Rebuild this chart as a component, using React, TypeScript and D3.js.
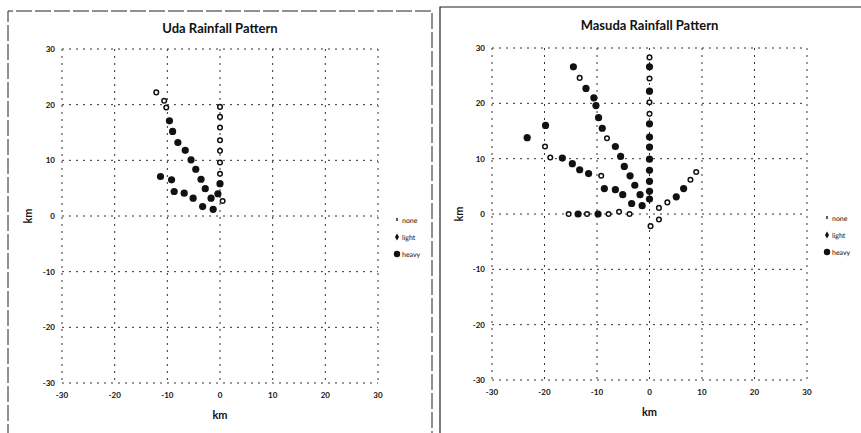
import React from "react";
import * as d3 from "d3";

// km offsets, [x, y]
const ticks = [-30, -20, -10, 0, 10, 20, 30];
const legendLabels = ["none", "light", "heavy"];

const udaLight: [number, number][] = [
  [0, 19.6], [0, 17.8], [0, 15.9], [0, 13.6], [0, 11.7], [0, 9.6], [0, 7.6], [0.5, 2.7],
  [-12.1, 22.2], [-10.6, 20.7], [-10.2, 19.5],
];
const udaHeavy: [number, number][] = [
  [0, 5.8], [-0.4, 4.0],
  [-9.6, 17.1], [-9.0, 15.2], [-8.0, 13.2], [-6.6, 11.8], [-5.5, 10.1], [-4.6, 8.4],
  [-3.6, 6.6], [-2.8, 4.9], [-1.7, 3.2], [-1.3, 1.2],
  [-11.3, 7.1], [-9.2, 6.5], [-8.7, 4.4], [-6.8, 4.1], [-5.1, 3.2], [-3.3, 1.7],
];

const masudaLight: [number, number][] = [
  [0, 28.3], [0, 24.5], [0, 20.2], [0, 18.1],
  [-13.3, 24.6], [-8.1, 13.7], [-19.9, 12.2], [-18.9, 10.2], [-9.2, 6.9],
  [-15.4, 0], [-11.9, 0], [-7.8, 0], [-5.8, 0.4], [-3.8, 0],
  [1.8, 1.1], [3.4, 2.1], [7.8, 6.2], [8.9, 7.6], [1.8, -1.0], [0.2, -2.2],
];
const masudaHeavy: [number, number][] = [
  [0, 26.6], [0, 22.2], [0, 16.3], [0, 13.9], [0, 12.1], [0, 9.9], [0, 7.9], [0, 5.9], [0, 4.1], [0, 2.7],
  [-14.5, 26.6], [-12.1, 22.7], [-10.6, 21.0], [-10.2, 19.6], [-9.7, 17.4], [-9.0, 15.5],
  [-6.5, 12.2], [-5.5, 10.4], [-4.8, 8.6], [-3.7, 6.9], [-2.8, 5.2], [-1.8, 3.5], [-1.4, 1.5],
  [-16.6, 10.1], [-14.7, 9.1], [-13.3, 8.0], [-11.6, 7.3], [-8.6, 4.6], [-6.5, 4.4], [-5.1, 3.5], [-3.4, 1.9],
  [-19.8, 16.0], [-23.3, 13.8], [-13.6, 0], [-9.8, 0], [5.1, 3.1], [6.5, 4.6],
];

const FONT = "Lato, 'Open Sans', sans-serif";

interface ChartProps {
  title: string;
  light: [number, number][];
  heavy: [number, number][];
  left: number;
  right: number;
  top: number;
  bottom: number;
  titleY: number;
  legendX: number;
  legendY: number;
  yLabelX: number;
}

const Chart: React.FC<ChartProps> = ({ title, light, heavy, left, right, top, bottom, titleY, legendX, legendY, yLabelX }) => {
  const x = d3.scaleLinear().domain([-30, 30]).range([left, right]);
  const y = d3.scaleLinear().domain([-30, 30]).range([bottom, top]);
  const cx = (left + right) / 2;
  const cy = (top + bottom) / 2;

  return (
    <g>
      {/* broken grid, like the scan */}
      {ticks.map(t => (
        <g key={"g" + t}>
          <line x1={x(t)} x2={x(t)} y1={top} y2={bottom} stroke="#333" strokeWidth={1} strokeDasharray="2,5" />
          <line x1={left} x2={right} y1={y(t)} y2={y(t)} stroke="#333" strokeWidth={1} strokeDasharray="2,5" />
        </g>
      ))}
      {ticks.map(t => (
        <text key={"xt" + t} x={x(t)} y={bottom + 15} textAnchor="middle" fontSize={8} fontWeight="bold" fontFamily={FONT} fill="#111">
          {t}
        </text>
      ))}
      {ticks.map(t => (
        <text key={"yt" + t} x={left - 7} y={y(t) + 3} textAnchor="end" fontSize={8} fontWeight="bold" fontFamily={FONT} fill="#111">
          {t}
        </text>
      ))}
      <text x={cx} y={titleY} textAnchor="middle" fontSize={13} fontWeight="bold" fontFamily={FONT} fill="#111">
        {title}
      </text>
      <text x={cx} y={bottom + 36} textAnchor="middle" fontSize={11} fontWeight="bold" fontFamily={FONT} fill="#111">
        km
      </text>
      <text transform={`translate(${yLabelX},${cy}) rotate(-90)`} textAnchor="middle" fontSize={11} fontWeight="bold" fontFamily={FONT} fill="#111">
        km
      </text>

      {light.map((p, i) => (
        <circle key={"l" + i} cx={x(p[0])} cy={y(p[1])} r={2.3} fill="#fff" stroke="#111" strokeWidth={1.5} />
      ))}
      {heavy.map((p, i) => (
        <circle key={"h" + i} cx={x(p[0])} cy={y(p[1])} r={3.6} fill="#111" />
      ))}

      {/* legend */}
      {legendLabels.map((lab, i) => {
        const ly = legendY + i * 17;
        return (
          <g key={lab}>
            {i === 0 && <rect x={legendX - 0.8} y={ly - 2} width={1.6} height={3} fill="#333" />}
            {i === 1 && <path d={d3.symbol(d3.symbolDiamond, 14)() || ""} transform={`translate(${legendX},${ly})`} fill="#111" />}
            {i === 2 && <circle cx={legendX} cy={ly} r={3.2} fill="#111" />}
            <text x={legendX + 5} y={ly + 2.5} fontSize={7} fontFamily={FONT} fill="#111" style={{ textRendering: "geometricPrecision" }}>
              {lab}
            </text>
          </g>
        );
      })}
    </g>
  );
};

export default function App() {
  return (
    <svg width={861} height={433} style={{ position: "absolute", left: 0, top: 0, background: "#fff" }}>
      <rect x={0} y={0} width={861} height={433} fill="#fff" />
      {/* panel frames */}
      <path d="M8,440 L8,11 L432,11 L432,440" fill="none" stroke="#222" strokeWidth={1} strokeDasharray="16,3" />
      <path d="M440,440 L440,7 L870,7" fill="none" stroke="#222" strokeWidth={1.2} />
      <Chart
        title="Uda Rainfall Pattern"
        light={udaLight}
        heavy={udaHeavy}
        left={62}
        right={378}
        top={49}
        bottom={383}
        titleY={33}
        legendX={397}
        legendY={220}
        yLabelX={32}
      />
      <Chart
        title="Masuda Rainfall Pattern"
        light={masudaLight}
        heavy={masudaHeavy}
        left={492}
        right={807}
        top={48}
        bottom={380}
        titleY={30}
        legendX={827}
        legendY={218}
        yLabelX={463}
      />
    </svg>
  );
}
